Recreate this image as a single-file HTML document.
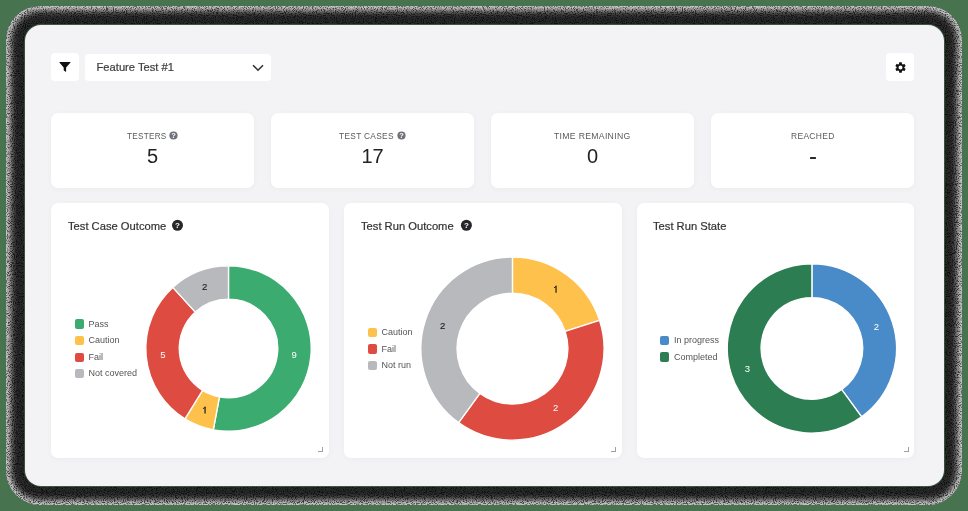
<!DOCTYPE html>
<html><head><meta charset="utf-8">
<style>
*{margin:0;padding:0;box-sizing:border-box}
html,body{width:968px;height:511px;overflow:hidden;background:#48734f;font-family:"Liberation Sans",sans-serif}
.abs{position:absolute}
#shadow{position:absolute;left:6px;top:6px;width:956px;height:499px;border-radius:34px;background:#1d1d1d;box-shadow:inset 0 0 7px 4px rgba(190,190,190,.92)}
#panel{position:absolute;left:24.5px;top:24.5px;width:919px;height:461.5px;border-radius:16px;background:#f3f3f6;box-shadow:0 0 0 0.9px rgba(60,100,66,.85)}
.card{position:absolute;background:#fff;border-radius:7px;box-shadow:0 1px 6px rgba(0,0,0,.035)}
.btn{position:absolute;background:#fff;border-radius:4px}
.lbl{position:absolute;left:0;right:0;text-align:center;font-size:10px;color:#555;white-space:nowrap}
.num{position:absolute;text-align:center;font-size:20px;color:#222;line-height:20px;padding-top:33px}
.slbl{position:absolute;top:129.6px;font-size:9.8px;color:#5a5a5a;white-space:nowrap;line-height:12px;letter-spacing:0.35px;transform-origin:0 0}
.title{position:absolute;font-size:11.2px;color:#333;white-space:nowrap;line-height:14px;-webkit-text-stroke:0.2px #333}
.leg{position:absolute;font-size:9px;color:#555;white-space:nowrap;line-height:11px;margin-top:0.7px}
.sw{position:absolute;width:9.2px;height:9.2px;border-radius:2px;margin-top:0.4px}
.handle{position:absolute;width:5px;height:5px;border-right:1.3px solid #a0a0a0;border-bottom:1.3px solid #a0a0a0}
</style></head><body>
<div id="shadow"></div>
<svg class="abs" style="left:0;top:0;mix-blend-mode:overlay" width="968" height="511"><defs><filter id="nz" filterUnits="userSpaceOnUse" x="0" y="0" width="968" height="511"><feTurbulence type="fractalNoise" baseFrequency="0.9" numOctaves="2" seed="11" result="t"/><feColorMatrix in="t" type="matrix" values="4 0 0 0 -1.5  4 0 0 0 -1.5  4 0 0 0 -1.5  0 0 0 0 0.45" result="c"/><feComposite in="c" in2="SourceGraphic" operator="in"/></filter></defs><rect x="6" y="6" width="956" height="499" rx="34" ry="34" fill="#000" filter="url(#nz)"/></svg>
<div id="panel"></div>

<!-- top bar -->
<div class="btn" style="left:51px;top:53px;width:28px;height:28px"></div>
<svg class="abs" style="left:55px;top:57px" width="20" height="20" viewBox="0 0 20 20"><path d="M4.6 5.0H15.3Q15.8 5.1 15.5 5.6L11.1 10.4V14.6Q11 15 10.6 14.8L8.9 13.6Q8.7 13.4 8.7 13.1V10.4L4.4 5.6Q4.2 5.1 4.6 5.0Z" fill="#111"/></svg>
<div class="btn" style="left:85px;top:54px;width:186px;height:27px"></div>
<div class="title" style="left:96.5px;top:60px;color:#444">Feature Test #1</div>
<svg class="abs" style="left:252px;top:64px" width="12" height="8" viewBox="0 0 12 8"><path d="M1 1.2L6 6.2L11 1.2" fill="none" stroke="#333" stroke-width="1.6"/></svg>
<div class="btn" style="left:886px;top:53px;width:28px;height:28px"></div>
<svg class="abs" style="left:894px;top:61px" width="13" height="13" viewBox="0 0 24 24"><path fill="#111" d="M19.14 12.94c.04-.3.06-.61.06-.94 0-.32-.02-.64-.07-.94l2.03-1.58c.18-.14.23-.41.12-.61l-1.92-3.32c-.12-.22-.37-.29-.59-.22l-2.39.96c-.5-.38-1.03-.7-1.62-.94l-.36-2.54c-.04-.24-.24-.41-.48-.41h-3.84c-.24 0-.43.17-.47.41l-.36 2.54c-.59.24-1.13.57-1.62.94l-2.39-.96c-.22-.08-.47 0-.59.22L2.74 8.87c-.12.21-.08.47.12.61l2.030 1.58c-.05.3-.09.63-.09.94s.02.64.07.94l-2.03 1.58c-.18.14-.23.41-.12.61l1.92 3.32c.12.22.37.29.59.22l2.39-.96c.5.38 1.03.7 1.62.94l.36 2.54c.05.24.24.41.48.41h3.84c.24 0 .44-.17.47-.41l.36-2.54c.59-.24 1.13-.56 1.62-.94l2.39.96c.22.08.47 0 .59-.22l1.92-3.32c.12-.22.07-.47-.12-.61l-2.01-1.58zM12 15.6c-1.98 0-3.6-1.62-3.6-3.6s1.62-3.6 3.6-3.6 3.6 1.62 3.6 3.6-1.62 3.6-3.6 3.6z"/></svg>

<!-- stat cards -->
<div class="card" style="left:51px;top:113px;width:203px;height:75px"></div>
<div class="card" style="left:271px;top:113px;width:203px;height:75px"></div>
<div class="card" style="left:491px;top:113px;width:203px;height:75px"></div>
<div class="card" style="left:711px;top:113px;width:203px;height:75px"></div>
<div class="slbl" style="left:126.6px;transform:scaleX(0.831)">TESTERS</div>
<div class="slbl" style="left:339.4px;transform:scaleX(0.852)">TEST CASES</div>
<div class="slbl" style="left:554.1px;transform:scaleX(0.884)">TIME REMAINING</div>
<div class="slbl" style="left:790.6px;transform:scaleX(0.866)">REACHED</div>
<svg class="abs" style="left:169px;top:131px" width="9" height="9" viewBox="0 0 9 9"><circle cx="4.5" cy="4.5" r="4.1" fill="#6e7178"/><text x="4.5" y="7.3" font-size="7.5" font-weight="bold" fill="#fff" text-anchor="middle" font-family="Liberation Sans">?</text></svg>
<svg class="abs" style="left:397px;top:131px" width="9" height="9" viewBox="0 0 9 9"><circle cx="4.5" cy="4.5" r="4.1" fill="#6e7178"/><text x="4.5" y="7.3" font-size="7.5" font-weight="bold" fill="#fff" text-anchor="middle" font-family="Liberation Sans">?</text></svg>
<div class="num" style="left:51px;width:203px;top:113px">5</div>
<div class="num" style="left:271px;width:203px;top:113px">17</div>
<div class="num" style="left:491px;width:203px;top:113px">0</div>
<div class="abs" style="left:810px;top:157px;width:5.8px;height:1.9px;background:#2b2b2b;border-radius:0.5px"></div>

<!-- chart cards -->
<div class="card" style="left:51px;top:203px;width:278px;height:254.5px"></div>
<div class="card" style="left:344px;top:203px;width:278px;height:254.5px"></div>
<div class="card" style="left:636.5px;top:203px;width:277.5px;height:254.5px"></div>

<div class="title" style="left:68px;top:219px">Test Case Outcome</div>
<div class="title" style="left:361px;top:219px">Test Run Outcome</div>
<div class="title" style="left:653px;top:219px">Test Run State</div>
<svg class="abs" style="left:170px;top:218px" width="16" height="16" viewBox="0 0 16 16"><circle cx="7.5" cy="7.3" r="5.5" fill="#25272b"/><text x="7.5" y="10.2" font-size="8" font-weight="bold" fill="#fff" text-anchor="middle" font-family="Liberation Sans">?</text></svg>
<svg class="abs" style="left:459px;top:218px" width="16" height="16" viewBox="0 0 16 16"><circle cx="7.4" cy="7.25" r="5.5" fill="#25272b"/><text x="7.4" y="10.15" font-size="8" font-weight="bold" fill="#fff" text-anchor="middle" font-family="Liberation Sans">?</text></svg>

<!-- donuts -->
<svg class="abs" style="left:0;top:0" width="968" height="511" viewBox="0 0 968 511" font-family="Liberation Sans" font-size="9.5" text-anchor="middle">
<path d="M228.50 265.80A82.7 82.7 0 1 1 213.30 429.79L219.45 396.91A49.25 49.25 0 1 0 228.50 299.25Z" fill="#3bab6f" stroke="#fff" stroke-width="1.35" stroke-linejoin="round"/>
<path d="M213.30 429.79A82.7 82.7 0 0 1 184.96 418.81L202.57 390.37A49.25 49.25 0 0 0 219.45 396.91Z" fill="#fec14c" stroke="#fff" stroke-width="1.35" stroke-linejoin="round"/>
<path d="M184.96 418.81A82.7 82.7 0 0 1 172.79 287.38L195.32 312.10A49.25 49.25 0 0 0 202.57 390.37Z" fill="#de4b41" stroke="#fff" stroke-width="1.35" stroke-linejoin="round"/>
<path d="M172.79 287.38A82.7 82.7 0 0 1 228.50 265.80L228.50 299.25A49.25 49.25 0 0 0 195.32 312.10Z" fill="#b8b9bd" stroke="#fff" stroke-width="1.35" stroke-linejoin="round"/>
<text x="294.2" y="357.5" fill="#fff">9</text>
<path d="M205.07 406.72V413.62" stroke="#222" stroke-width="1.25" fill="none"/><path d="M205.37 407.22L203.07 408.62" stroke="#222" stroke-width="1.0" fill="none"/>
<text x="162.8" y="357.5" fill="#fff">5</text>
<text x="204.7" y="289.9" fill="#222" stroke="#222" stroke-width="0.15">2</text>
<path d="M512.45 257.05A91.55 91.55 0 0 1 599.52 320.31L565.14 331.48A55.4 55.4 0 0 0 512.45 293.20Z" fill="#fec14c" stroke="#fff" stroke-width="1.35" stroke-linejoin="round"/>
<path d="M599.52 320.31A91.55 91.55 0 0 1 458.64 422.67L479.89 393.42A55.4 55.4 0 0 0 565.14 331.48Z" fill="#de4b41" stroke="#fff" stroke-width="1.35" stroke-linejoin="round"/>
<path d="M458.64 422.67A91.55 91.55 0 0 1 512.45 257.05L512.45 293.20A55.4 55.4 0 0 0 479.89 393.42Z" fill="#b8b9bd" stroke="#fff" stroke-width="1.35" stroke-linejoin="round"/>
<path d="M556.04 285.86V292.76" stroke="#222" stroke-width="1.25" fill="none"/><path d="M556.34 286.36L554.04 287.76" stroke="#222" stroke-width="1.0" fill="none"/>
<text x="555.6" y="410.9" fill="#fff">2</text>
<text x="442.6" y="328.8" fill="#222" stroke="#222" stroke-width="0.15">2</text>
<path d="M811.90 263.75A84.65 84.65 0 0 1 861.66 416.88L841.79 389.54A50.85 50.85 0 0 0 811.90 297.55Z" fill="#488bc8" stroke="#fff" stroke-width="1.35" stroke-linejoin="round"/>
<path d="M861.66 416.88A84.65 84.65 0 1 1 811.90 263.75L811.90 297.55A50.85 50.85 0 1 0 841.79 389.54Z" fill="#2c7e52" stroke="#fff" stroke-width="1.35" stroke-linejoin="round"/>
<text x="876.3" y="330.4" fill="#fff">2</text>
<text x="747.5" y="372.2" fill="#fff">3</text>
</svg>

<!-- legends -->
<div class="sw" style="left:75px;top:319px;background:#3bab6f"></div><div class="leg" style="left:88.5px;top:318px">Pass</div>
<div class="sw" style="left:75px;top:335.7px;background:#fec14c"></div><div class="leg" style="left:88.5px;top:334.7px">Caution</div>
<div class="sw" style="left:75px;top:352.3px;background:#de4b41"></div><div class="leg" style="left:88.5px;top:351.3px">Fail</div>
<div class="sw" style="left:75px;top:368.8px;background:#b8b9bd"></div><div class="leg" style="left:88.5px;top:367.8px">Not covered</div>

<div class="sw" style="left:368px;top:327.3px;background:#fec14c"></div><div class="leg" style="left:381.5px;top:326.3px">Caution</div>
<div class="sw" style="left:368px;top:344.1px;background:#de4b41"></div><div class="leg" style="left:381.5px;top:343.1px">Fail</div>
<div class="sw" style="left:368px;top:360.8px;background:#b8b9bd"></div><div class="leg" style="left:381.5px;top:359.8px">Not run</div>

<div class="sw" style="left:660px;top:335.4px;background:#488bc8"></div><div class="leg" style="left:674px;top:334.4px">In progress</div>
<div class="sw" style="left:660px;top:352px;background:#2c7e52"></div><div class="leg" style="left:674px;top:351px">Completed</div>

<div class="handle" style="left:318px;top:447px"></div>
<div class="handle" style="left:611px;top:447px"></div>
<div class="handle" style="left:903.5px;top:446.5px"></div>

</body></html>
